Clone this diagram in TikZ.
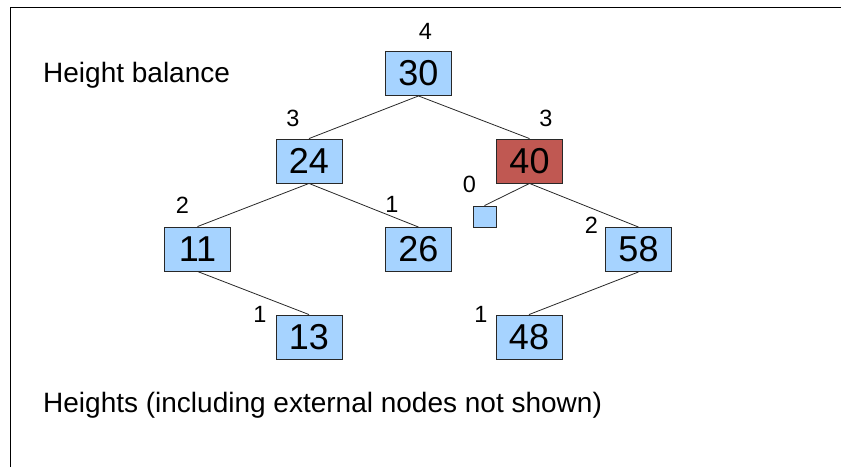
\documentclass[tikz,border=0pt]{standalone}
\usepackage{fontspec}
\setmainfont{Liberation Sans}
\definecolor{boxblue}{RGB}{166,211,255}
\definecolor{boxred}{RGB}{192,88,82}
\definecolor{edgegray}{RGB}{40,40,40}
\begin{document}
\begin{tikzpicture}[x=1pt,y=-1pt,
  tnode/.style={draw=edgegray,line width=0.9pt,fill=boxblue,minimum width=66pt,minimum height=44pt,inner sep=0pt,font=\fontsize{36}{40}\selectfont},
  rnode/.style={tnode,fill=boxred},
  extnode/.style={draw=edgegray,line width=0.9pt,fill=boxblue,minimum width=23pt,minimum height=21pt,inner sep=0pt},
  hlabel/.style={inner sep=0pt,font=\fontsize{23.5}{27}\selectfont},
  caption/.style={anchor=base west,inner sep=0pt,font=\fontsize{28}{32}\selectfont},
  edge/.style={draw=edgegray,line width=0.8pt}]
\useasboundingbox (0,0) rectangle (841,467);
\draw[line width=1.7pt] (10.5,467) -- (10.5,7.5) -- (841,7.5);
% captions
\node[caption] (t1) at (43,82) {Height balance};
\node[caption] (t2) at (43,412) {Heights (including external nodes not shown)};
% tree nodes
\node[tnode] (n30) at (418.5,73.5) {30};
\node[tnode] (n24) at (309,161) {24};
\node[rnode] (n40) at (529.5,161) {40};
\node[tnode] (n11) at (197.5,249) {11};
\node[tnode] (n26) at (418.5,249.5) {26};
\node[extnode] (ext) at (484.5,216.5) {};
\node[tnode] (n58) at (638.5,249.5) {58};
\node[tnode] (n13) at (309,337) {13};
\node[tnode] (n48) at (529,337) {48};
% edges
\draw[edge] (n30.south) -- (n24.north);
\draw[edge] (n30.south) -- (n40.north);
\draw[edge] (n24.south) -- (n11.north);
\draw[edge] (n24.south) -- (n26.north);
\draw[edge] (n40.south) -- (ext.north);
\draw[edge] (n40.south) -- (n58.north);
\draw[edge] (n11.south) -- (n13.north);
\draw[edge] (n58.south) -- (n48.north);
% height labels
\node[hlabel] (h30) at (425.5,31) {4};
\node[hlabel] (h24) at (293,118) {3};
\node[hlabel] (h40) at (546,118) {3};
\node[hlabel] (hext) at (469.5,184.5) {0};
\node[hlabel] (h11) at (182.5,205.5) {2};
\node[hlabel] (h26) at (392,204.5) {1};
\node[hlabel] (h58) at (591.5,225.5) {2};
\node[hlabel] (h13) at (260,314.5) {1};
\node[hlabel] (h48) at (481,314.5) {1};
\end{tikzpicture}
\end{document}
